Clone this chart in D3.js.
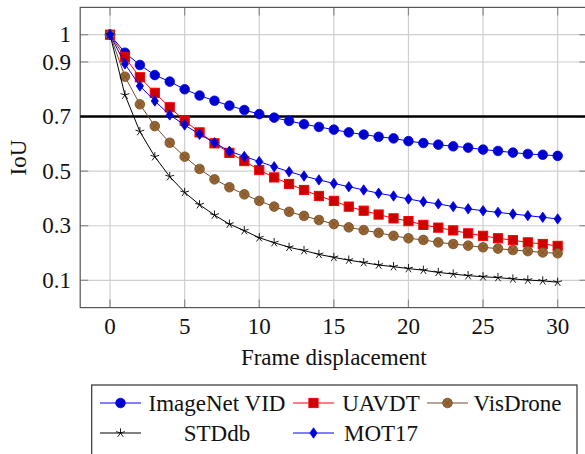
<!DOCTYPE html>
<html>
<head>
<meta charset="utf-8">
<script src="https://cdn.jsdelivr.net/npm/d3@7/dist/d3.min.js"></script>
<style>
  html, body { margin: 0; padding: 0; background: #fff; }
  svg { display: block; font-family: 'Liberation Serif', 'Times New Roman', serif; }
</style>
</head>
<body>
<div id="chart"></div>
<script>
// ---- data ----
const frames = [0,1,2,3,4,5,6,7,8,9,10,11,12,13,14,15,16,17,18,19,20,21,22,23,24,25,26,27,28,29,30];
const imagenetVid = [1, 0.934, 0.889, 0.852, 0.828, 0.800, 0.777, 0.758, 0.740, 0.724, 0.709, 0.696, 0.684, 0.672, 0.662, 0.652, 0.642, 0.634, 0.626, 0.620, 0.610, 0.603, 0.597, 0.591, 0.586, 0.579, 0.574, 0.568, 0.563, 0.560, 0.556];
const uavdt = [1, 0.917, 0.844, 0.787, 0.734, 0.685, 0.642, 0.602, 0.567, 0.537, 0.504, 0.477, 0.453, 0.431, 0.409, 0.391, 0.370, 0.355, 0.341, 0.327, 0.317, 0.303, 0.293, 0.283, 0.272, 0.263, 0.254, 0.247, 0.239, 0.233, 0.226];
const visDrone = [1, 0.846, 0.745, 0.665, 0.604, 0.553, 0.508, 0.470, 0.441, 0.415, 0.391, 0.370, 0.351, 0.336, 0.321, 0.306, 0.294, 0.284, 0.274, 0.263, 0.254, 0.248, 0.239, 0.233, 0.227, 0.221, 0.216, 0.211, 0.207, 0.202, 0.199];
const stddb = [1, 0.779, 0.645, 0.553, 0.480, 0.422, 0.377, 0.339, 0.306, 0.282, 0.256, 0.238, 0.221, 0.209, 0.195, 0.184, 0.174, 0.165, 0.156, 0.150, 0.143, 0.137, 0.129, 0.123, 0.117, 0.113, 0.110, 0.105, 0.101, 0.098, 0.093];
const mot17 = [1, 0.893, 0.812, 0.757, 0.706, 0.669, 0.635, 0.604, 0.573, 0.554, 0.535, 0.516, 0.498, 0.482, 0.468, 0.455, 0.443, 0.431, 0.419, 0.409, 0.398, 0.388, 0.380, 0.370, 0.362, 0.355, 0.349, 0.343, 0.337, 0.331, 0.325];
const xTicks = [0, 5, 10, 15, 20, 25, 30];
const yTicks = [0.1, 0.3, 0.5, 0.7, 0.9, 1];
const threshold = 0.7;

// pgfplots default cycle list look
const series = [
  { name: 'ImageNet VID', values: imagenetVid, line: '#0000ff', fill: '#0000cc', mark: 'circle' },
  { name: 'UAVDT', values: uavdt, line: '#ff0000', fill: '#cc0000', mark: 'square' },
  { name: 'VisDrone', values: visDrone, line: '#734d26', fill: '#996633', mark: 'otimes' },
  { name: 'STDdb', values: stddb, line: '#000000', fill: 'none', mark: 'star' },
  { name: 'MOT17', values: mot17, line: '#0000ff', fill: '#0000cc', mark: 'diamond' }
];

const W = 585, H = 454;
const svg = d3.select('#chart').append('svg').attr('width', W).attr('height', H);

const x = d3.scaleLinear().domain([-2, 32]).range([80.2, 587.5]);
const y = d3.scaleLinear().domain([0, 1.1]).range([307.6, 7.4]);
const [x0, x1] = x.range();
const [yb, yt] = y.range();

// grid
const grid = svg.append('g');
grid.selectAll('.gx').data(xTicks).join('line')
  .attr('x1', d => x(d)).attr('x2', d => x(d)).attr('y1', yt).attr('y2', yb)
  .attr('stroke', '#cfcfcf').attr('stroke-width', 1.2);
grid.selectAll('.gy').data(yTicks).join('line')
  .attr('y1', d => y(d)).attr('y2', d => y(d)).attr('x1', x0).attr('x2', x1)
  .attr('stroke', '#cfcfcf').attr('stroke-width', 1.2);

// tick marks, inside on all four sides
const tk = 8;
const ticks = svg.append('g').attr('stroke', '#8a8a8a').attr('stroke-width', 1.2);
xTicks.forEach(t => {
  ticks.append('line').attr('x1', x(t)).attr('x2', x(t)).attr('y1', yb).attr('y2', yb - tk);
  ticks.append('line').attr('x1', x(t)).attr('x2', x(t)).attr('y1', yt).attr('y2', yt + tk);
});
yTicks.forEach(t => {
  ticks.append('line').attr('y1', y(t)).attr('y2', y(t)).attr('x1', x0).attr('x2', x0 + tk);
  ticks.append('line').attr('y1', y(t)).attr('y2', y(t)).attr('x1', x1).attr('x2', x1 - tk);
});

// frame
svg.append('rect').attr('x', x0).attr('y', yt).attr('width', x1 - x0).attr('height', yb - yt)
  .attr('fill', 'none').attr('stroke', '#555').attr('stroke-width', 1.2);

// tick labels
svg.append('g').selectAll('text').data(xTicks).join('text')
  .attr('x', d => x(d)).attr('y', 334)
  .attr('text-anchor', 'middle').attr('font-size', 23).attr('fill', '#111')
  .text(d => d);
svg.append('g').selectAll('text').data(yTicks).join('text')
  .attr('x', 71).attr('y', d => y(d) + 7.7)
  .attr('text-anchor', 'end').attr('font-size', 23).attr('fill', '#111')
  .text(d => d);

// axis titles
svg.append('text').attr('x', x(15)).attr('y', 365).attr('text-anchor', 'middle')
  .attr('font-size', 23).attr('fill', '#111').text('Frame displacement');
svg.append('text').attr('transform', `translate(26,${(yt + yb) / 2}) rotate(-90)`)
  .attr('text-anchor', 'middle').attr('font-size', 23).attr('fill', '#111').text('IoU');

// 0.7 threshold line
svg.append('line').attr('x1', x0).attr('x2', x1).attr('y1', y(threshold)).attr('y2', y(threshold))
  .attr('stroke', '#000').attr('stroke-width', 2.6);

// markers
function drawMark(g, s, cx, cy) {
  if (s.mark === 'circle') {
    g.append('circle').attr('cx', cx).attr('cy', cy).attr('r', 4.8)
      .attr('fill', s.fill).attr('stroke', s.line).attr('stroke-width', 0.8);
  } else if (s.mark === 'square') {
    g.append('rect').attr('x', cx - 4.6).attr('y', cy - 4.6).attr('width', 9.2).attr('height', 9.2)
      .attr('fill', s.fill).attr('stroke', s.line).attr('stroke-width', 1);
  } else if (s.mark === 'otimes') {
    g.append('circle').attr('cx', cx).attr('cy', cy).attr('r', 4.8)
      .attr('fill', s.fill).attr('stroke', s.line).attr('stroke-width', 0.8);
    const d = 3.4;
    g.append('path').attr('d', `M${cx - d},${cy - d}L${cx + d},${cy + d}M${cx - d},${cy + d}L${cx + d},${cy - d}`)
      .attr('stroke', s.line).attr('stroke-width', 0.8);
  } else if (s.mark === 'star') {
    const r = 4.6;
    let p = '';
    for (let k = 0; k < 5; k++) {
      const a = -Math.PI / 2 + k * 2 * Math.PI / 5;
      p += `M${cx},${cy}L${cx + r * Math.cos(a)},${cy + r * Math.sin(a)}`;
    }
    g.append('path').attr('d', p).attr('stroke', s.line).attr('stroke-width', 0.9).attr('fill', 'none');
  } else if (s.mark === 'diamond') {
    const hw = 3.6, hh = 5.2;
    g.append('path').attr('d', `M${cx},${cy - hh}L${cx + hw},${cy}L${cx},${cy + hh}L${cx - hw},${cy}Z`)
      .attr('fill', s.fill).attr('stroke', s.line).attr('stroke-width', 0.8);
  }
}

const line = d3.line().x((d, i) => x(frames[i])).y(d => y(d));
series.forEach(s => {
  const g = svg.append('g');
  g.append('path').attr('d', line(s.values)).attr('fill', 'none')
    .attr('stroke', s.line).attr('stroke-width', 1);
  s.values.forEach((v, i) => drawMark(g, s, x(frames[i]), y(v)));
});

// legend
const lg = svg.append('g');
lg.append('rect').attr('x', 91.7).attr('y', 385).attr('width', 485.3).attr('height', 80)
  .attr('fill', '#fff').attr('stroke', '#333').attr('stroke-width', 1.2);
const cols = [
  { lx: 100, tx: 146, tw: 142 },
  { lx: 293, tx: 342, tw: 78 },
  { lx: 427, tx: 472, tw: 91 }
];
const rows = [403, 433];
series.forEach((s, i) => {
  const c = cols[i % 3], ry = rows[Math.floor(i / 3)];
  lg.append('line').attr('x1', c.lx).attr('x2', c.lx + 41).attr('y1', ry).attr('y2', ry)
    .attr('stroke', s.line).attr('stroke-width', 1);
  drawMark(lg, s, c.lx + 20.5, ry);
  // pgfplots centres entries inside the column's text cell
  lg.append('text').attr('x', c.tx + c.tw / 2).attr('y', ry + 8)
    .attr('text-anchor', 'middle').attr('font-size', 23).attr('fill', '#111').text(s.name);
});
</script>
</body>
</html>
